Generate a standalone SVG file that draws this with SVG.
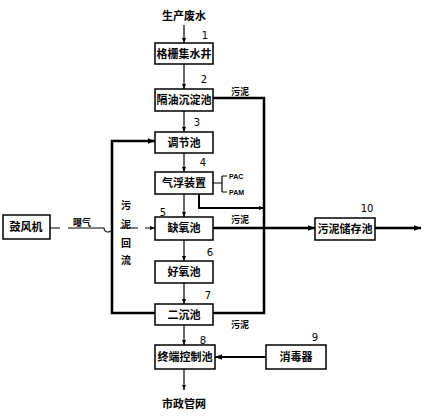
<svg xmlns="http://www.w3.org/2000/svg" width="424" height="416" viewBox="0 0 424 416">
<style>
.box{fill:#fff;stroke:#000;stroke-width:1.5}
.t{font-family:"Noto Sans CJK SC","Noto Sans",sans-serif;font-weight:bold;font-size:11px;fill:#000;text-anchor:middle}
.n{font-family:"DejaVu Sans","Liberation Sans",sans-serif;font-size:10px;fill:#000;text-anchor:middle}
.s{font-family:"Liberation Sans",sans-serif;font-weight:bold;font-size:7px;fill:#000}
.thin{stroke:#000;stroke-width:1.2;fill:none}
.thick{stroke:#000;stroke-width:2.5;fill:none}
.mid{stroke:#000;stroke-width:2;fill:none}
</style>
<defs>
<marker id="a" viewBox="0 0 10 10" refX="10" refY="5" markerWidth="5" markerHeight="5" orient="auto" markerUnits="userSpaceOnUse"><path d="M0,1 L10,5 L0,9 z" fill="#000"/></marker>
<marker id="b" viewBox="0 0 10 10" refX="10" refY="5" markerWidth="8" markerHeight="7" orient="auto" markerUnits="userSpaceOnUse"><path d="M0,1 L10,5 L0,9 z" fill="#000"/></marker>
</defs>
<g id="connectors">
<line class="thin" x1="184" y1="25" x2="184" y2="43" marker-end="url(#a)"/>
<line class="thin" x1="184" y1="64" x2="184" y2="89" marker-end="url(#a)"/>
<line class="thin" x1="184" y1="111" x2="184" y2="132" marker-end="url(#a)"/>
<line class="thin" x1="184" y1="153" x2="184" y2="172" marker-end="url(#a)"/>
<line class="thin" x1="184" y1="194" x2="184" y2="217" marker-end="url(#a)"/>
<line class="thin" x1="184" y1="240" x2="184" y2="261" marker-end="url(#a)"/>
<line class="thin" x1="184" y1="283" x2="184" y2="304" marker-end="url(#a)"/>
<line class="thin" x1="184" y1="325" x2="184" y2="345" marker-end="url(#a)"/>
<line class="thin" x1="184" y1="369" x2="184" y2="390" marker-end="url(#a)"/>
<line class="mid" x1="266" y1="357" x2="215" y2="357" marker-end="url(#b)"/>
<path class="thick" d="M155,313 H112 V141 H155" marker-end="url(#b)"/>
<path class="thick" d="M213,98 H264 V313 H213"/>
<path class="mid" d="M199,194 V208 H264" marker-end="url(#a)"/>
<path class="thin" d="M213,183 H222 M222,176 V192 M222,176 H227 M222,192 H227"/>
<line class="thick" x1="213" y1="228" x2="315" y2="228" marker-end="url(#b)"/>
<line class="thick" x1="375" y1="228" x2="421" y2="228" marker-end="url(#b)"/>
<path class="thin" d="M50,228 H60 M68,228 H104 A4,4 0 0 0 112,228 M120,228 H138 M145,228 H155" marker-end="url(#a)"/>
</g>
<text class="t" x="184" y="20">生产废水</text>
<text class="t" x="184" y="408">市政管网</text>
<g id="n1"><rect class="box" x="155" y="43" width="58" height="21"/><text class="t" x="184" y="58">格栅集水井</text><text class="n" x="205" y="39">1</text></g>
<g id="n2"><rect class="box" x="155" y="89" width="58" height="22"/><text class="t" x="184" y="104">隔油沉淀池</text><text class="n" x="204" y="83">2</text></g>
<g id="n3"><rect class="box" x="155" y="132" width="58" height="21"/><text class="t" x="184" y="147">调节池</text><text class="n" x="197" y="126">3</text></g>
<g id="n4"><rect class="box" x="155" y="172" width="58" height="22"/><text class="t" x="184" y="187">气浮装置</text><text class="n" x="203" y="166">4</text></g>
<g id="n5"><rect class="box" x="155" y="217" width="58" height="23"/><text class="t" x="184" y="232">缺氧池</text><text class="n" x="163" y="216">5</text></g>
<g id="n6"><rect class="box" x="155" y="261" width="58" height="22"/><text class="t" x="184" y="276">好氧池</text><text class="n" x="210" y="256">6</text></g>
<g id="n7"><rect class="box" x="155" y="304" width="58" height="21"/><text class="t" x="184" y="319">二沉池</text><text class="n" x="208" y="299">7</text></g>
<g id="n8"><rect class="box" x="155" y="345" width="60" height="24"/><text class="t" x="185" y="361">终端控制池</text><text class="n" x="203" y="344">8</text></g>
<g id="n9"><rect class="box" x="266" y="345" width="60" height="24"/><text class="t" x="296" y="361">消毒器</text><text class="n" x="315" y="341">9</text></g>
<g id="n10"><rect class="box" x="315" y="218" width="60" height="22"/><text class="t" x="345" y="233">污泥储存池</text><text class="n" x="367" y="212">10</text></g>
<g id="blower"><rect class="box" x="3" y="215" width="47" height="24"/><text class="t" x="26" y="231">鼓风机</text></g>
<g id="labels">
<text class="s" x="229" y="179">PAC</text>
<text class="s" x="229" y="195">PAM</text>
<text class="t" x="240" y="95" style="font-size:9px">污泥</text>
<text class="t" x="240" y="223" style="font-size:9px">污泥</text>
<text class="t" x="240" y="328" style="font-size:9px">污泥</text>
<text class="t" x="82" y="226" style="font-size:9px">曝气</text>
<text class="t" x="126" y="209" style="font-size:10px">污</text>
<text class="t" x="126" y="228" style="font-size:10px">泥</text>
<text class="t" x="126" y="247" style="font-size:10px">回</text>
<text class="t" x="126" y="264" style="font-size:10px">流</text>
</g>
</svg>
